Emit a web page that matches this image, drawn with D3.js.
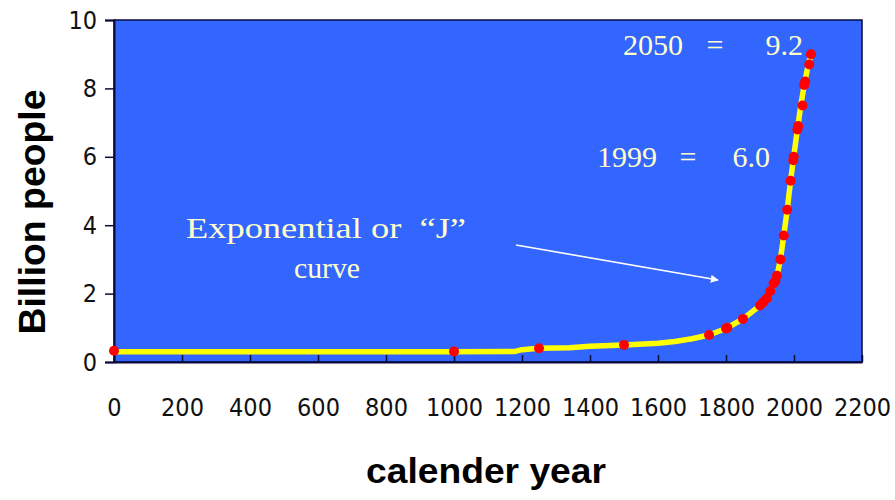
<!DOCTYPE html>
<html>
<head>
<meta charset="utf-8">
<script src="https://cdn.jsdelivr.net/npm/d3@7/dist/d3.min.js"></script>
<style>
  html, body { margin: 0; padding: 0; background: #ffffff; }
  svg { display: block; }
</style>
</head>
<body>
<svg id="chart" width="895" height="500"></svg>
<script>
// ---- data ----
const lineYears  = [0, 1000, 1180, 1200, 1250, 1340, 1400, 1500, 1600, 1650, 1700, 1750, 1800, 1850, 1900, 1910, 1920, 1930, 1940, 1950, 1960, 1970, 1980, 1990, 1999, 2010, 2020, 2030, 2040, 2050];
const lineValues = [0.30, 0.30, 0.31, 0.36, 0.40, 0.42, 0.46, 0.50, 0.55, 0.60, 0.68, 0.79, 0.98, 1.26, 1.65, 1.75, 1.86, 2.07, 2.30, 2.52, 3.00, 3.70, 4.45, 5.30, 6.00, 6.80, 7.50, 8.10, 8.60, 9.00];

const dotYears  = [0, 1000, 1250, 1500, 1750, 1800, 1804, 1850, 1900, 1910, 1920, 1930, 1940, 1945, 1950, 1960, 1970, 1980, 1990, 1998, 1999, 2010, 2012, 2025, 2030, 2033, 2045, 2050];
const dotValues = [0.33, 0.31, 0.40, 0.50, 0.79, 0.98, 1.00, 1.26, 1.65, 1.75, 1.86, 2.07, 2.30, 2.36, 2.52, 3.00, 3.70, 4.45, 5.30, 5.90, 6.00, 6.80, 6.90, 7.50, 8.10, 8.20, 8.70, 9.00];

const xTicks = [0, 200, 400, 600, 800, 1000, 1200, 1400, 1600, 1800, 2000, 2200];
const yTicks = [0, 2, 4, 6, 8, 10];

const xTitle = "calender year";
const yTitle = "Billion people";
const annotations = [
  { year: "2050", eq: "=", val: "9.2" },
  { year: "1999", eq: "=", val: "6.0" }
];
const curveLabel = ["Exponential or  \u201CJ\u201D", "curve"];

// ---- drawing ----
const svg = d3.select("#chart");
const x = d3.scaleLinear().domain([0, 2200]).range([114, 862]);
const y = d3.scaleLinear().domain([0, 10]).range([362, 20]);

const tickFont = "'Liberation Sans Narrow','DejaVu Sans Condensed','Liberation Sans',sans-serif";
const serif = "'Liberation Serif','DejaVu Serif',serif";
const axisColor = "#0a0a3a";

// plot background
svg.append("rect")
  .attr("x", x(0)).attr("y", y(10))
  .attr("width", x(2200) - x(0)).attr("height", y(0) - y(10))
  .attr("fill", "#3366ff")
  .attr("stroke", axisColor).attr("stroke-width", 1.5);

// y axis
const yAxis = svg.append("g")
  .attr("transform", `translate(${x(0)},0)`)
  .call(d3.axisLeft(y).tickValues(yTicks).tickSize(9).tickPadding(8).tickFormat(d3.format("d")));
yAxis.select(".domain").attr("stroke", axisColor).attr("stroke-width", 2);
yAxis.selectAll(".tick line").attr("stroke", axisColor).attr("stroke-width", 1.5);
yAxis.selectAll(".tick text").attr("font-family", tickFont).attr("font-size", 25).attr("fill", "#111");

// x axis
const xAxis = svg.append("g")
  .attr("transform", `translate(0,${y(0)})`)
  .call(d3.axisBottom(x).tickValues(xTicks).tickSizeInner(-7).tickSizeOuter(0).tickPadding(36).tickFormat(d3.format("d")));
xAxis.select(".domain").attr("stroke", axisColor).attr("stroke-width", 2);
xAxis.selectAll(".tick line").attr("stroke", axisColor).attr("stroke-width", 1.5);
xAxis.selectAll(".tick text").attr("font-family", tickFont).attr("font-size", 25).attr("fill", "#111");

// line
const lineData = lineYears.map((yr, i) => [yr, lineValues[i]]);
svg.append("path")
  .datum(lineData)
  .attr("fill", "none")
  .attr("stroke", "#ffff00")
  .attr("stroke-width", 5.5)
  .attr("stroke-linejoin", "round")
  .attr("d", d3.line().x(d => x(d[0])).y(d => y(d[1])));

// dots
const dotData = dotYears.map((yr, i) => [yr, dotValues[i]]);
svg.append("g").selectAll("circle")
  .data(dotData).join("circle")
  .attr("cx", d => x(d[0])).attr("cy", d => y(d[1]))
  .attr("r", 5)
  .attr("fill", "#ff0000");

// annotations
const annColor = "#ffffcc";
const annPos = [
  { x0: 623, xe: 715, x1: 803, base: 55 },
  { x0: 597, xe: 688, x1: 770, base: 167 }
];
annotations.forEach((a, i) => {
  const p = annPos[i];
  const g = svg.append("g").attr("font-family", serif).attr("font-size", 30).attr("fill", annColor);
  g.append("text").attr("x", p.x0).attr("y", p.base).text(a.year);
  g.append("text").attr("x", p.xe).attr("y", p.base).attr("text-anchor", "middle").text(a.eq);
  g.append("text").attr("x", p.x1).attr("y", p.base).attr("text-anchor", "end").text(a.val);
});

const cg = svg.append("g").attr("font-family", serif).attr("font-size", 30).attr("fill", annColor);
cg.append("text").attr("x", 186).attr("y", 238).attr("xml:space", "preserve")
  .style("white-space", "pre")
  .attr("textLength", 280).attr("lengthAdjust", "spacingAndGlyphs").text(curveLabel[0]);
cg.append("text").attr("x", 327).attr("y", 278).attr("text-anchor", "middle")
  .attr("textLength", 66).attr("lengthAdjust", "spacingAndGlyphs").text(curveLabel[1]);

// arrow
const defs = svg.append("defs");
defs.append("marker").attr("id", "ah")
  .attr("viewBox", "0 0 10 10").attr("refX", 9).attr("refY", 5)
  .attr("markerWidth", 5).attr("markerHeight", 5).attr("orient", "auto")
  .append("path").attr("d", "M0,0 L10,5 L0,10 z").attr("fill", "#ffffff");
svg.append("line")
  .attr("x1", 516).attr("y1", 245).attr("x2", 718).attr("y2", 280)
  .attr("stroke", "#ffffff").attr("stroke-width", 1.6)
  .attr("marker-end", "url(#ah)");

// axis titles
svg.append("text")
  .attr("transform", "translate(45,212) rotate(-90)")
  .attr("text-anchor", "middle")
  .attr("font-family", "'Liberation Sans',Arial,sans-serif")
  .attr("font-weight", "bold").attr("font-size", 36).attr("fill", "#000")
  .attr("textLength", 245).attr("lengthAdjust", "spacingAndGlyphs")
  .text(yTitle);
svg.append("text")
  .attr("x", 486).attr("y", 483)
  .attr("text-anchor", "middle")
  .attr("font-family", "'Liberation Sans',Arial,sans-serif")
  .attr("font-weight", "bold").attr("font-size", 35).attr("fill", "#000")
  .attr("textLength", 240).attr("lengthAdjust", "spacingAndGlyphs")
  .text(xTitle);
</script>
</body>
</html>
